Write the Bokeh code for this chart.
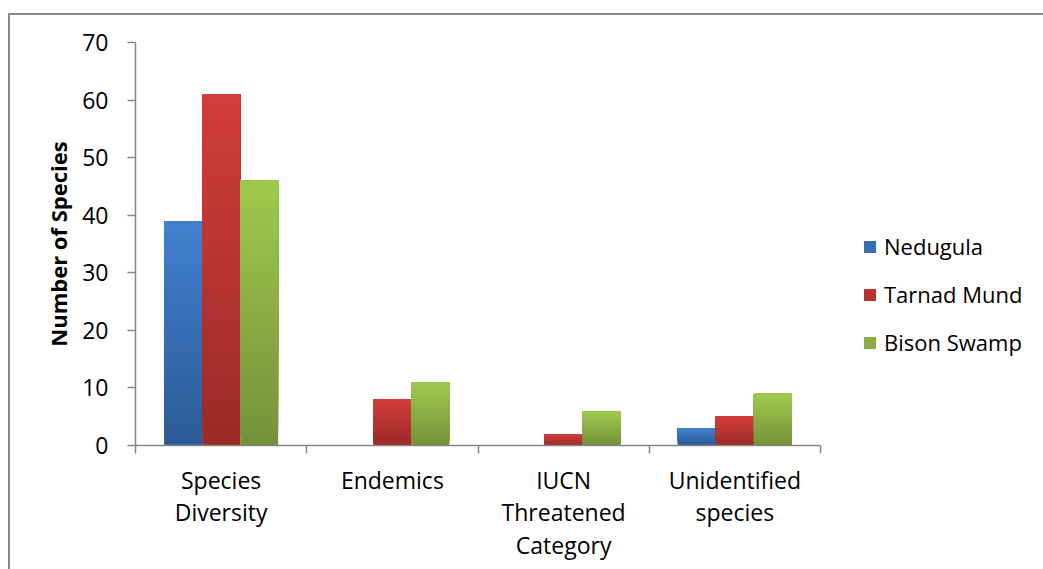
import numpy as np
from bokeh.plotting import figure
from bokeh.models import ColumnDataSource, Range1d, FixedTicker, Legend, LegendItem
from bokeh.embed import file_html
from bokeh.resources import INLINE

# ---- data ----
categories = ["Species\nDiversity", "Endemics", "IUCN\nThreatened\nCategory", "Unidentified\nspecies"]
series_names = ["Nedugula", "Tarnad Mund", "Bison Swamp"]
nedugula = [39, 0, 0, 3]
tarnad_mund = [61, 8, 2, 5]
bison_swamp = [46, 11, 6, 9]
y_ticks = [0, 10, 20, 30, 40, 50, 60, 70]

series_values = [nedugula, tarnad_mund, bison_swamp]
top_colors = [(66, 129, 207), (210, 62, 59), (160, 202, 78)]
bottom_colors = [(43, 90, 150), (155, 42, 41), (116, 145, 57)]

FONT = "Open Sans"
AXIS_COLOR = "#868686"

AXIS_PX = 685      # pixel length of category axis
FRAME_W = 908      # frame includes legend area on the right
ncat = len(categories)

p = figure(frame_width=FRAME_W, frame_height=403, output_backend="svg", toolbar_location=None,
           x_range=Range1d(0, ncat * FRAME_W / AXIS_PX), y_range=Range1d(0, 70),
           min_border_left=125, min_border_right=0, min_border_top=27, min_border_bottom=124)
p.margin = (13, 0, 0, 8)
p.styles = {"border-top": "2px solid #8a8a8a", "border-left": "2px solid #8a8a8a"}
p.outline_line_color = None
p.xgrid.visible = False
p.ygrid.visible = False
p.background_fill_color = "white"
p.border_fill_color = "white"

bar_w = 0.222
offsets = [-bar_w, 0.0, bar_w]
N = 30

legend_items = []
for si, (name, vals) in enumerate(zip(series_names, series_values)):
    xs, bots, tops, cols = [], [], [], []
    for ci, v in enumerate(vals):
        if v <= 0:
            continue
        for k in range(N):
            f = (k + 0.5) / N  # 0 bottom -> 1 top
            c = tuple(int(round(bottom_colors[si][j] + (top_colors[si][j] - bottom_colors[si][j]) * f)) for j in range(3))
            xs.append(ci + 0.5 + offsets[si])
            bots.append(v * k / N)
            tops.append(v)
            cols.append("#%02x%02x%02x" % c)
    src = ColumnDataSource(dict(x=xs, bottom=bots, top=tops, color=cols))
    r = p.vbar(x="x", bottom="bottom", top="top", width=bar_w, source=src,
               fill_color="color", line_color=None)
    legend_items.append(LegendItem(label=name, renderers=[r], index=N // 2))

# axes
xa = p.xaxis[0]
xa.bounds = (0, ncat)
xa.ticker = FixedTicker(ticks=[i + 0.5 for i in range(ncat)],
                        minor_ticks=list(range(ncat + 1)))
xa.major_label_overrides = {i + 0.5: c for i, c in enumerate(categories)}
xa.major_tick_line_color = None
xa.major_tick_out = 0
xa.major_tick_in = 0
xa.minor_tick_out = 8
xa.minor_tick_in = 0
xa.minor_tick_line_color = AXIS_COLOR
xa.minor_tick_line_width = 1.5
xa.axis_line_color = AXIS_COLOR
xa.axis_line_width = 1.5
xa.major_label_standoff = 10
xa.major_label_text_font = FONT
xa.major_label_text_font_size = "23px"
xa.major_label_text_color = "black"
xa.major_label_text_line_height = 1.03

ya = p.yaxis[0]
ya.ticker = FixedTicker(ticks=y_ticks)
ya.minor_tick_line_color = None
ya.major_tick_out = 8
ya.major_tick_in = 0
ya.major_tick_line_color = AXIS_COLOR
ya.major_tick_line_width = 1.5
ya.axis_line_color = AXIS_COLOR
ya.axis_line_width = 1.5
ya.major_label_standoff = 19
ya.major_label_text_font = FONT
ya.major_label_text_font_size = "23px"
ya.major_label_text_color = "black"
ya.axis_label = "Number of Species"
ya.axis_label_text_font = FONT
ya.axis_label_text_font_style = "bold"
ya.axis_label_text_font_size = "22px"
ya.axis_label_text_color = "black"
ya.axis_label_standoff = 6

legend = Legend(items=legend_items, location=(727, 88), orientation="vertical",
                glyph_width=15, glyph_height=15, label_standoff=7,
                label_text_font=FONT, label_text_font_size="22px", label_text_color="black",
                spacing=18, padding=0, margin=0, border_line_color=None,
                background_fill_alpha=0)
p.add_layout(legend, "center")

open("out.html", "w").write(file_html(p, INLINE))
